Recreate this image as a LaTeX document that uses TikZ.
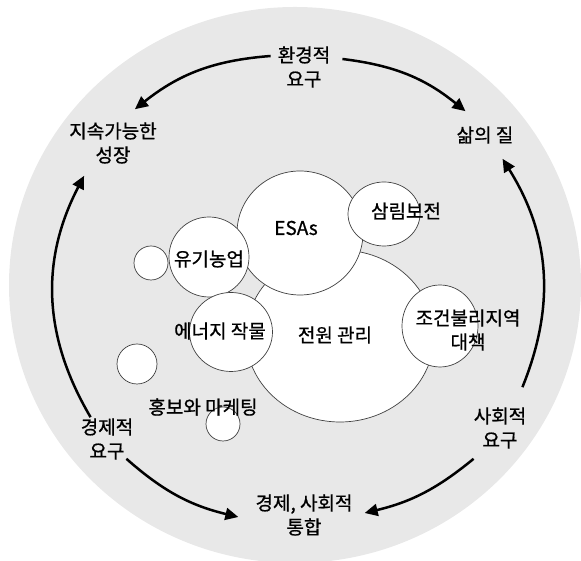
\documentclass[tikz,border=0pt]{standalone}
\usepackage{fontspec}
\setmainfont{Noto Sans CJK KR}
\newfontfamily\labelfont[FakeBold=0.8]{Noto Sans CJK KR}
\usetikzlibrary{arrows.meta, calc}

\definecolor{bggray}{RGB}{232,232,232}

\tikzset{
  label/.style={align=center, inner sep=3pt, font=\labelfont\fontsize{19}{24}\selectfont},
  bubble/.style={draw=black!75, fill=white, line width=0.7pt},
  flow/.style={line width=2.5pt, -{Triangle[length=13pt, width=12pt]}}
}

\begin{document}
\begin{tikzpicture}[x=1pt, y=1pt]

% Fix the page to the size of the picture
\useasboundingbox (0,0) rectangle (581,561);

% Draw the gray disc in the back
\fill[bggray] (295,276) ellipse [x radius=286, y radius=278];

% Draw the bubbles, back to front
\draw[bubble] (340,225) ellipse [x radius=94, y radius=86];
\draw[bubble] (300,328) ellipse [x radius=63, y radius=62];
\draw[bubble] (384,347) ellipse [x radius=36, y radius=32];
\draw[bubble] (209,304) circle [radius=40];
\draw[bubble] (151,298) circle [radius=17];
\draw[bubble] (231,229) ellipse [x radius=41.5, y radius=39.5];
\draw[bubble] (440,235) ellipse [x radius=38, y radius=41];
\draw[bubble] (137,197) circle [radius=20];
\draw[bubble] (223,137) circle [radius=17];

% Label the bubbles
\node[label] (esa) at (296,333) {ESAs};
\node[label] (forest) at (406,350) {삼림보전};
\node[label] (organic) at (209,302) {유기농업};
\node[label] (energy) at (220,230) {에너지 작물};
\node[label] (farm) at (335,226) {전원 관리};
\node[label] (lfa) at (468,231) {조건불리지역\\대책};
\node[label] (promo) at (203,154) {홍보와 마케팅};

% Place the outer labels
\node[label] (env) at (304,494) {환경적\\요구};
\node[label] (sust) at (113,418) {지속가능한\\성장};
\node[label] (life) at (485,426) {삶의 질};
\node[label] (econ) at (107,122) {경제적\\요구};
\node[label] (soc) at (500,133) {사회적\\요구};
\node[label] (integ) at (304,46) {경제, 사회적\\통합};

% Draw the arrows round the ring
\draw[flow] ([shift={(-4,11)}]env.west) to[bend right=17] ([shift={(-25,10)}]sust.north east);
\draw[flow] ([shift={(9,8)}]env.east) to[bend left=16] ([shift={(12,12)}]life.north west);
\draw[flow] ([shift={(13,-2)}]econ.north west) to[bend left=29] ([shift={(18,-9)}]sust.south west);
\draw[flow] ([shift={(-10,4)}]econ.south east) to[bend right=14] ([shift={(-14,-2)}]integ.west);
\draw[flow] ([shift={(-7,17)}]soc.north east) to[bend right=27] ([shift={(-14,-12)}]life.south east);
\draw[flow] ([shift={(3,-7)}]soc.south west) to[bend left=13] ([shift={(9,2)}]integ.east);

\end{tikzpicture}
\end{document}
